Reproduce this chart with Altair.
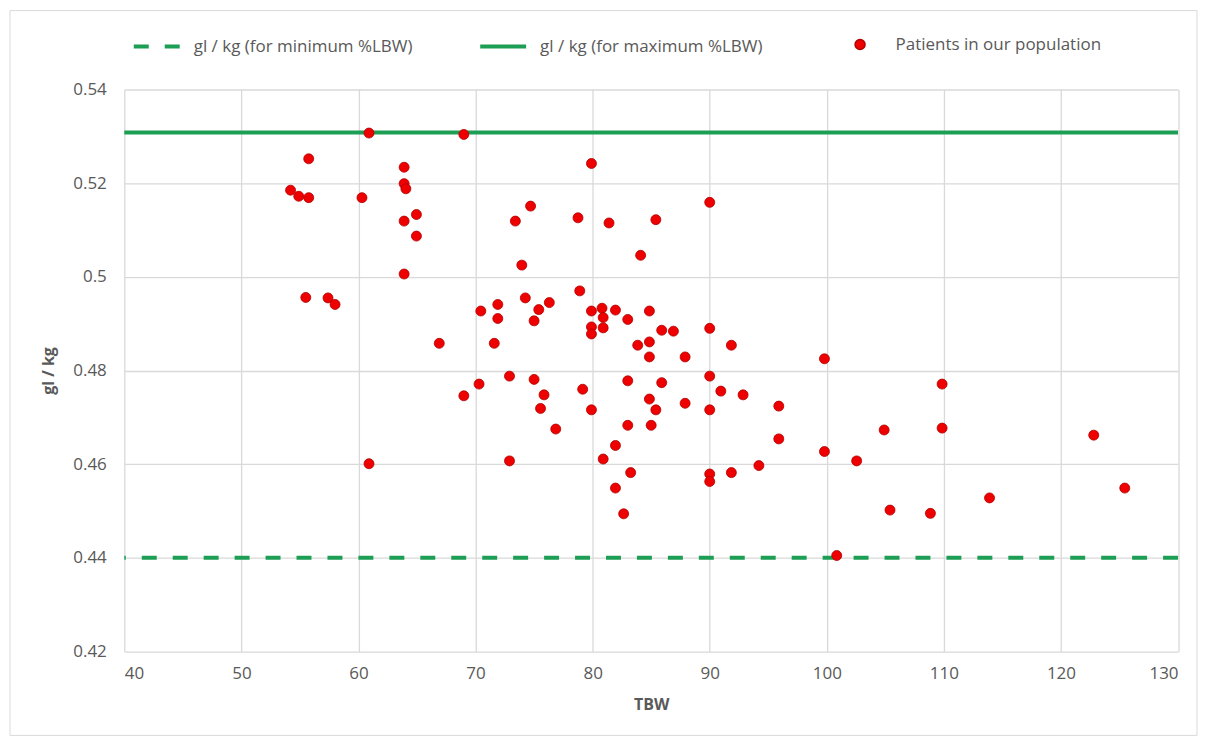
import altair as alt
import pandas as pd

# ---------------- data ----------------
tbw = [60.9, 69.0, 55.75, 54.2, 54.9, 55.75, 60.3, 63.9, 63.9, 64.05,
       64.95, 63.9, 64.95, 63.9, 55.5, 57.4, 58.0, 66.9, 70.45, 71.6,
       79.9, 90.0, 74.7, 73.4, 78.75, 81.4, 85.4, 84.1, 73.95, 78.9,
       74.25, 71.9, 71.9, 76.3, 75.4, 75.0, 79.9, 80.8, 80.9, 81.95,
       79.9, 80.9, 79.9, 83.0, 84.85, 85.9, 86.9, 90.0, 83.85, 84.85,
       84.85, 87.9, 91.85, 99.8, 72.9, 75.0, 70.3, 69.0, 75.85, 75.55,
       76.85, 79.15, 79.9, 83.0, 85.9, 84.85, 85.4, 83.0, 85.0, 87.9,
       90.0, 90.0, 90.95, 92.85, 95.9, 95.9, 99.8, 72.9, 80.9, 81.95,
       83.25, 81.95, 82.65, 90.0, 90.0, 91.85, 94.2, 100.85, 60.9, 109.85,
       104.9, 109.85, 102.55, 122.8, 125.45, 113.9, 105.4, 108.85]
glkg = [0.5307, 0.5304, 0.5252, 0.5185, 0.5172, 0.5169, 0.5169, 0.5234, 0.5199, 0.5188,
        0.5133, 0.5119, 0.5087, 0.5006, 0.4956, 0.4955, 0.4941, 0.4858, 0.4927, 0.4858,
        0.5242, 0.5159, 0.5151, 0.5119, 0.5126, 0.5115, 0.5122, 0.5046, 0.5025, 0.4970,
        0.4955, 0.4941, 0.4911, 0.4945, 0.4930, 0.4906, 0.4927, 0.4933, 0.4913, 0.4929,
        0.4893, 0.4891, 0.4878, 0.4909, 0.4927, 0.4886, 0.4884, 0.4890, 0.4854, 0.4861,
        0.4829, 0.4829, 0.4854, 0.4825, 0.4788, 0.4781, 0.4771, 0.4746, 0.4748, 0.4719,
        0.4675, 0.4760, 0.4716, 0.4778, 0.4774, 0.4739, 0.4716, 0.4683, 0.4683, 0.4730,
        0.4788, 0.4716, 0.4756, 0.4748, 0.4724, 0.4654, 0.4627, 0.4607, 0.4611, 0.4640,
        0.4582, 0.4549, 0.4494, 0.4579, 0.4563, 0.4582, 0.4597, 0.4405, 0.4601, 0.4771,
        0.4673, 0.4677, 0.4607, 0.4662, 0.4549, 0.4528, 0.4502, 0.4495]

line_names = ["gl / kg (for minimum %LBW)", "gl / kg (for maximum %LBW)"]
line_values = [0.44, 0.5308]
point_name = "Patients in our population"

x_ticks = [40, 50, 60, 70, 80, 90, 100, 110, 120, 130]
y_ticks = [0.42, 0.44, 0.46, 0.48, 0.50, 0.52, 0.54]

GREEN = "#1c9e55"
RED = "#ee0000"
GRAY = "#595959"

pts = pd.DataFrame({"TBW": tbw, "glkg": glkg, "series": point_name})
lines = pd.DataFrame({"series": line_names, "glkg": line_values})

x_scale = alt.Scale(domain=[40, 130], nice=False, zero=False)
y_scale = alt.Scale(domain=[0.42, 0.54], nice=False, zero=False)

x_axis = alt.Axis(title="TBW", values=x_ticks, format="d", labelFontSize=17,
                  labelColor=GRAY, labelPadding=14, titleFontSize=16,
                  titleFontWeight="bold", titleColor=GRAY, titleY=53,
                  titleBaseline="middle")
y_axis = alt.Axis(title="gl / kg", values=y_ticks, format=".2~f", labelFontSize=17,
                  labelColor=GRAY, labelPadding=18, titleFontSize=16,
                  titleFontWeight="bold", titleColor=GRAY, titleX=-76,
                  titleY=281.5, titleBaseline="middle", titleAlign="center")

frame = alt.Chart(alt.Data(values=[{"f": 1}])).mark_rect(
    fillOpacity=0, stroke="#d9d9d9", strokeWidth=1
).encode(
    x=alt.value(-114.5), x2=alt.value(1074.5),
    y=alt.value(-79), y2=alt.value(647)
)

rules = alt.Chart(lines).mark_rule(color=GREEN, strokeWidth=4).encode(
    y=alt.Y("glkg:Q", scale=y_scale, axis=y_axis),
    strokeDash=alt.StrokeDash(
        "series:N",
        scale=alt.Scale(domain=line_names, range=[[15, 16], [1, 0]]),
        legend=alt.Legend(title=None, orient="none", legendX=7.5, legendY=-68,
                          direction="horizontal", symbolSize=2116,
                          symbolStrokeWidth=4, symbolStrokeColor=GREEN,
                          labelFontSize=17, labelColor=GRAY, labelOffset=12,
                          labelLimit=1000, columnPadding=59, padding=0,
                          symbolType="stroke"),
    ),
)

points = alt.Chart(pts).mark_point(
    filled=True, size=100, stroke="#b00000", strokeWidth=0.8, opacity=1
).encode(
    x=alt.X("TBW:Q", scale=x_scale, axis=x_axis),
    y=alt.Y("glkg:Q", scale=y_scale, axis=y_axis),
    color=alt.Color(
        "series:N",
        scale=alt.Scale(domain=[point_name], range=[RED]),
        legend=alt.Legend(title=None, orient="none", legendX=728.5, legendY=-53.5,
                          symbolSize=100, symbolType="circle",
                          labelFontSize=17, labelColor=GRAY, labelOffset=27,
                          labelLimit=1000, padding=0),
    ),
)

chart = alt.layer(frame, rules, points).resolve_legend(
    color="independent", strokeDash="independent"
).properties(
    width=1055.5, height=563,
    autosize=alt.AutoSizeParams(type="none"),
    padding={"left": 116.5, "top": 81, "right": 20, "bottom": 88},
).configure(font="Open Sans").configure_axis(
    grid=True, gridColor="#d9d9d9", gridWidth=1.3, domain=False, ticks=False
).configure_view(stroke=None)

chart.save("out.html", embed_options={"renderer": "svg", "actions": False})
